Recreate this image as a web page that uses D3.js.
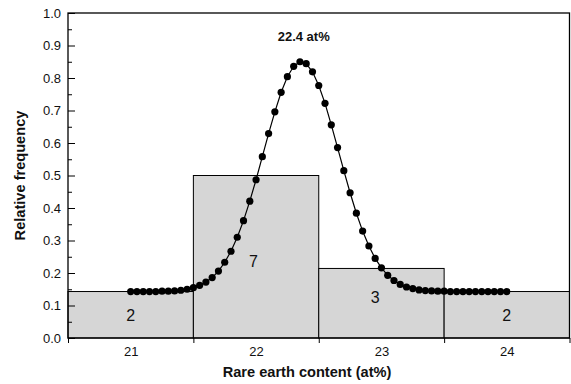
<!DOCTYPE html>
<meta charset="utf-8">
<style>
body { margin: 0; background: #fff; }
text { font-family: "Liberation Sans", Arial, sans-serif; fill: #111; }
.tick text { font-size: 13px; }
.axis-title { font-size: 14.6px; font-weight: bold; }
.bar-label { font-size: 16px; text-anchor: middle; }
</style>
<body>
<svg width="571" height="384"></svg>
<script src="https://cdn.jsdelivr.net/npm/d3@7"></script>
<script>
// histogram bins (centres) and relative frequencies
var bins = [21, 22, 23, 24];
var freq = [0.143, 0.5, 0.214, 0.143];
var counts = ["2", "7", "3", "2"];
// where the count labels sit (data units)
var countX = [21, 21.98, 22.95, 24];
var countY = [0.07, 0.235, 0.125, 0.07];

// gaussian fit points
var fitX = [21.00, 21.05, 21.10, 21.15, 21.20, 21.25, 21.30, 21.35, 21.40, 21.45,
            21.50, 21.55, 21.60, 21.65, 21.70, 21.75, 21.80, 21.85, 21.90, 21.95,
            22.00, 22.05, 22.10, 22.15, 22.20, 22.25, 22.30, 22.35, 22.40, 22.45,
            22.50, 22.55, 22.60, 22.65, 22.70, 22.75, 22.80, 22.85, 22.90, 22.95,
            23.00, 23.05, 23.10, 23.15, 23.20, 23.25, 23.30, 23.35, 23.40, 23.45,
            23.50, 23.55, 23.60, 23.65, 23.70, 23.75, 23.80, 23.85, 23.90, 23.95, 24.00];
var fitY = [0.143, 0.143, 0.143, 0.143, 0.143, 0.144, 0.144, 0.145, 0.147, 0.150,
            0.155, 0.162, 0.172, 0.186, 0.206, 0.233, 0.267, 0.310, 0.361, 0.421,
            0.487, 0.558, 0.629, 0.696, 0.756, 0.804, 0.836, 0.850, 0.844, 0.819,
            0.777, 0.722, 0.656, 0.586, 0.515, 0.447, 0.384, 0.329, 0.283, 0.245,
            0.216, 0.193, 0.177, 0.165, 0.157, 0.152, 0.148, 0.146, 0.145, 0.144,
            0.144, 0.143, 0.143, 0.143, 0.143, 0.143, 0.143, 0.143, 0.143, 0.143, 0.143];
var peakLabel = "22.4 at%";

var svg = d3.select("svg"),
    margin = {top: 13, right: 1.5, bottom: 46, left: 68},
    width = +svg.attr("width") - margin.left - margin.right,
    height = +svg.attr("height") - margin.top - margin.bottom,
    g = svg.append("g").attr("transform", "translate(" + margin.left + "," + margin.top + ")");

var x = d3.scaleLinear().domain([20.5, 24.5]).range([0, width]);
var y = d3.scaleLinear().domain([0, 1]).range([height, 0]);

// bars
g.selectAll(".bar")
  .data(bins)
  .enter().append("rect")
    .attr("x", function(d) { return x(d - 0.5); })
    .attr("width", function(d) { return x(d + 0.5) - x(d - 0.5); })
    .attr("y", function(d, i) { return y(freq[i]); })
    .attr("height", function(d, i) { return height - y(freq[i]); })
    .attr("fill", "#d6d6d6")
    .attr("stroke", "#000")
    .attr("stroke-width", 1);

g.selectAll(".bar-label")
  .data(counts)
  .enter().append("text")
    .attr("class", "bar-label")
    .attr("x", function(d, i) { return x(countX[i]); })
    .attr("y", function(d, i) { return y(countY[i]); })
    .attr("dy", "0.35em")
    .text(function(d) { return d; });

// fit curve
var pts = fitX.map(function(v, i) { return [v, fitY[i]]; });
var line = d3.line()
    .x(function(d) { return x(d[0]); })
    .y(function(d) { return y(d[1]); });

g.append("path")
  .datum(pts)
  .attr("d", line)
  .attr("fill", "none")
  .attr("stroke", "#000")
  .attr("stroke-width", 1.2);

g.selectAll(".dot")
  .data(pts)
  .enter().append("circle")
    .attr("cx", function(d) { return x(d[0]); })
    .attr("cy", function(d) { return y(d[1]); })
    .attr("r", 3.6)
    .attr("fill", "#000");

g.append("text")
  .attr("class", "axis-title")
  .style("font-size", "13px")
  .attr("x", x(22.38))
  .attr("y", y(0.915))
  .attr("text-anchor", "middle")
  .text(peakLabel);

// frame
g.append("rect")
  .attr("width", width)
  .attr("height", height)
  .attr("fill", "none")
  .attr("stroke", "#000")
  .attr("stroke-width", 1.3);

// y axis: major ticks inward, minor ticks inward
var yAxis = d3.axisRight(y).tickValues(d3.range(0, 1.01, 0.1))
    .tickSize(7).tickFormat(d3.format(".1f"));
var ya = g.append("g").call(yAxis);
ya.select(".domain").remove();
ya.selectAll(".tick text").attr("x", -7).attr("text-anchor", "end");
ya.selectAll(".tick line").attr("stroke", "#000");

var yMinor = d3.axisRight(y).tickValues(d3.range(0.05, 1, 0.1)).tickSize(4).tickFormat("");
g.append("g").call(yMinor).call(function(s) {
  s.select(".domain").remove();
  s.selectAll("line").attr("stroke", "#000");
});

// x axis: ticks at bin edges, labels at bin centres
var xEdges = d3.axisBottom(x).tickValues([20.5, 21.5, 22.5, 23.5, 24.5]).tickSize(5).tickFormat("");
g.append("g").attr("transform", "translate(0," + height + ")").call(xEdges).call(function(s) {
  s.select(".domain").remove();
  s.selectAll("line").attr("stroke", "#000");
});

var xLabels = d3.axisBottom(x).tickValues(bins).tickSize(0).tickPadding(9).tickFormat(d3.format("d"));
g.append("g").attr("transform", "translate(0," + height + ")").call(xLabels).call(function(s) {
  s.select(".domain").remove();
});

svg.selectAll(".tick text").style("font-family", "'Liberation Sans', Arial, sans-serif").attr("fill", "#111");

// axis titles
g.append("text")
  .attr("class", "axis-title")
  .attr("x", 239)
  .attr("y", height + 39)
  .attr("text-anchor", "middle")
  .text("Rare earth content (at%)");

g.append("text")
  .attr("class", "axis-title")
  .attr("transform", "translate(-43," + height / 2 + ") rotate(-90)")
  .attr("text-anchor", "middle")
  .text("Relative frequency");
</script>
</body>
